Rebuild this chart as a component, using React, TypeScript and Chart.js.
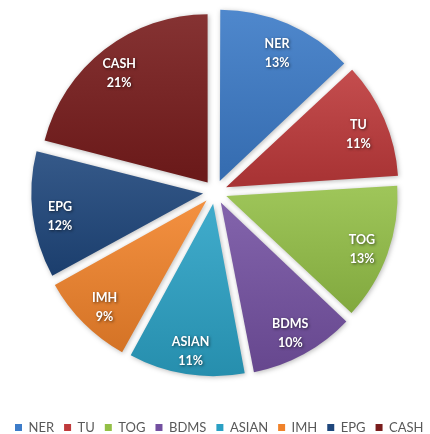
import React, { useEffect, useRef } from "react";
import { Chart, registerables } from "chart.js";

Chart.register(...registerables);

const categories = ["NER", "TU", "TOG", "BDMS", "ASIAN", "IMH", "EPG", "CASH"];
const shares = [13, 11, 13, 10, 11, 9, 12, 21];
const colors = ["#3d7cc9", "#bf3a3b", "#93bf46", "#7350a0", "#2aa0c4", "#f0822a", "#1f477c", "#7a1d1d"];

const RADIUS = 168;
const OFFSET = 48;

function mix(hex: string, target: number, t: number) {
  const n = parseInt(hex.slice(1), 16);
  const r = (n >> 16) & 255, g = (n >> 8) & 255, b = n & 255;
  const f = (c: number) => Math.round(c + (target - c) * t);
  return `rgb(${f(r)},${f(g)},${f(b)})`;
}

export default function App() {
  const ref = useRef<HTMLCanvasElement>(null);

  useEffect(() => {
    const canvas = ref.current!;
    const total = shares.reduce((a, b) => a + b, 0);

    const fill = (c: any) => {
      const i = c.dataIndex;
      const chart = c.chart;
      const area = chart.chartArea;
      if (!area || i === undefined) return colors[i] ?? "#000";
      const cy = (area.top + area.bottom) / 2;
      const before = shares.slice(0, i).reduce((a, b) => a + b, 0);
      const start = -Math.PI / 2 + (before / total) * Math.PI * 2;
      const end = start + (shares[i] / total) * Math.PI * 2;
      const mid = (start + end) / 2;
      const off = OFFSET / 4;
      const oy = cy + Math.sin(mid) * off;
      let minY = oy, maxY = oy;
      for (let k = 0; k <= 24; k++) {
        const a = start + ((end - start) * k) / 24;
        const yy = oy + Math.sin(a) * RADIUS;
        minY = Math.min(minY, yy);
        maxY = Math.max(maxY, yy);
      }
      const g = chart.ctx.createLinearGradient(0, minY, 0, maxY);
      g.addColorStop(0, mix(colors[i], 255, 0.1));
      g.addColorStop(1, mix(colors[i], 0, 0.12));
      return g;
    };

    const legendWide = {
      id: "legendWide",
      beforeInit(chart: any) {
        const lg = chart.legend;
        if (!lg) return;
        const fit = lg.fit;
        lg.fit = function () {
          this.maxWidth = this.maxWidth + 40;
          fit.call(this);
        };
      },
      afterLayout(chart: any) {
        const lg = chart.legend;
        if (!lg) return;
        lg.right = lg.right + 40;
        lg.width = lg.width + 40;
      },
    };

    const slicePlugin = {
      id: "sliceDeco",
      beforeDatasetsDraw(chart: any) {
        const ctx = chart.ctx;
        ctx.save();
        ctx.shadowColor = "rgba(0,0,0,0.28)";
        ctx.shadowBlur = 5;
        ctx.shadowOffsetX = 1;
        ctx.shadowOffsetY = 1;
      },
      afterDatasetsDraw(chart: any) {
        const ctx = chart.ctx;
        ctx.restore();
        const meta = chart.getDatasetMeta(0);
        meta.data.forEach((arc: any, i: number) => {
          const { x, y, startAngle, endAngle, outerRadius } = arc.getProps(
            ["x", "y", "startAngle", "endAngle", "outerRadius"],
            true
          );
          const mid = (startAngle + endAngle) / 2;
          const d = outerRadius * 0.93;
          const px = x + Math.cos(mid) * d;
          const py = y + Math.sin(mid) * d + 5;
          ctx.save();
          ctx.font = "bold 12.5px Lato";
          ctx.fillStyle = "#ffffff";
          ctx.textAlign = "center";
          ctx.textBaseline = "middle";
          ctx.shadowColor = "rgba(0,0,0,0.6)";
          ctx.shadowBlur = 3;
          ctx.shadowOffsetX = 1;
          ctx.shadowOffsetY = 1;
          ctx.fillText(categories[i], px, py - 9.5);
          ctx.fillText(Math.round((shares[i] / total) * 100) + "%", px, py + 9.5);
          ctx.restore();
        });
      },
    };

    const chart = new Chart(canvas, {
      type: "pie",
      data: {
        labels: categories,
        datasets: [
          {
            data: shares,
            backgroundColor: fill,
            borderWidth: 0,
            offset: OFFSET,
          },
        ],
      },
      options: {
        responsive: false,
        animation: false,
        radius: RADIUS,
        layout: { padding: { top: 0, bottom: -10, left: 5, right: 5 } },
        plugins: {
          tooltip: { enabled: false },
          legend: {
            position: "bottom",
            align: "start",
            title: {
              display: true,
              text: "",
              padding: { top: 0, bottom: 15 },
              font: { size: 12, lineHeight: 1 },
            },
            labels: {
              boxWidth: 7,
              boxHeight: 7,
              padding: 10,
              color: "#595959",
              font: { size: 13, family: "Lato" },
              generateLabels: () =>
                categories.map((t, i) => ({
                  text: t,
                  fillStyle: colors[i],
                  strokeStyle: colors[i],
                  lineWidth: 0,
                  hidden: false,
                  index: i,
                  fontColor: "#595959",
                })),
            },
          },
        },
      } as any,
      plugins: [legendWide, slicePlugin],
    });

    return () => chart.destroy();
  }, []);

  return (
    <div style={{ position: "absolute", left: 0, top: 0, width: 430, height: 434, background: "#fff" }}>
      <canvas ref={ref} width={430} height={434} style={{ display: "block" }} />
    </div>
  );
}
